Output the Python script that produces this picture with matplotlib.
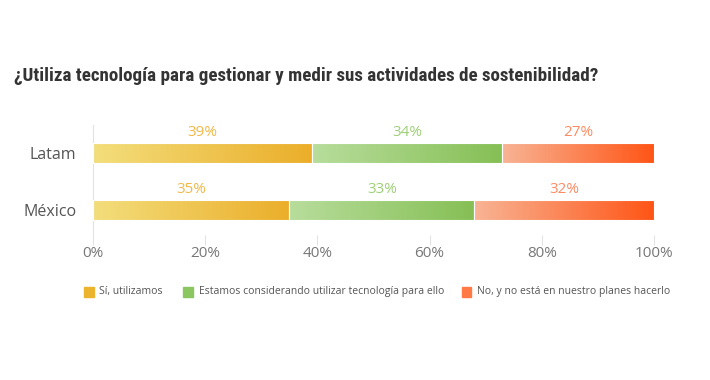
import numpy as np
import matplotlib
matplotlib.use("Agg")
import matplotlib.pyplot as plt
from matplotlib.colors import LinearSegmentedColormap
from matplotlib.patches import Rectangle

categories = ["Latam", "México"]
series = ["Sí, utilizamos",
          "Estamos considerando utilizar tecnología para ello",
          "No, y no está en nuestro planes hacerlo"]
values = [[39, 35], [34, 33], [27, 32]]
ticks = [0, 20, 40, 60, 80, 100]

grad = [("#f3de7c", "#ebae2a"), ("#b8dd9c", "#86bf55"), ("#f8b495", "#ff5516")]
label_col = ["#f0b94a", "#9fcf78", "#fb8c64"]
legend_col = ["#ecb42e", "#8cc660", "#ff7a45"]

plt.rcParams["font.family"] = ["Open Sans", "DejaVu Sans"]

fig = plt.figure(figsize=(7.1, 3.8), dpi=100)
ax = fig.add_axes([0.131, 0.382, 0.79, 0.289])

bar_h = 0.35
g = np.linspace(0, 1, 256).reshape(1, -1)
for j, cat in enumerate(categories):
    left = 0
    for i in range(len(series)):
        w = values[i][j]
        cmap = LinearSegmentedColormap.from_list("c%d" % i, grad[i])
        ax.imshow(g, cmap=cmap, aspect="auto", interpolation="bilinear",
                  extent=[left, left + w, j + bar_h / 2, j - bar_h / 2], zorder=2)
        ax.add_patch(Rectangle((left, j - bar_h / 2), w, bar_h, fill=False,
                               edgecolor="white", lw=0.8, zorder=3))
        ax.text(left + w / 2, j - bar_h / 2 - 0.05, "%d%%" % w, ha="center",
                va="bottom", color=label_col[i], fontsize=11)
        left += w

ax.set_xlim(0, 100)
ax.set_ylim(1.44, -0.49)
ax.set_yticks(range(len(categories)))
ax.set_yticklabels(categories, fontsize=11.5, color="#555555")
ax.tick_params(axis="y", length=0, pad=12)
ax.set_xticks(ticks)
ax.set_xticklabels(["%d%%" % t for t in ticks], fontsize=11, color="#777777")
ax.tick_params(axis="x", length=7, color="#e3e3e3", pad=1)
for s in ["top", "right", "bottom"]:
    ax.spines[s].set_visible(False)
ax.spines["left"].set_color("#e3e3e3")

title = fig.text(0.02, 0.80, "¿Utiliza tecnología para gestionar y medir sus actividades de sostenibilidad?",
                 fontsize=13, fontweight="bold", color="#333333", fontstretch="condensed",
                 family=["Roboto Condensed", "Liberation Sans Narrow", "DejaVu Sans"], va="center")
# shrink title to fit the width it takes in the original
fig.canvas.draw()
wpx = title.get_window_extent().width
title.set_fontsize(13 * 582 / wpx)

# legend
lx = [0.118, 0.258, 0.65]
for i, name in enumerate(series):
    fig.patches.append(Rectangle((lx[i], 0.218), 0.014, 0.028, transform=fig.transFigure,
                                 color=legend_col[i], figure=fig))
    fig.text(lx[i] + 0.022, 0.232, name, fontsize=7.5, color="#555555", va="center")

fig.savefig("out.png", dpi=100)
